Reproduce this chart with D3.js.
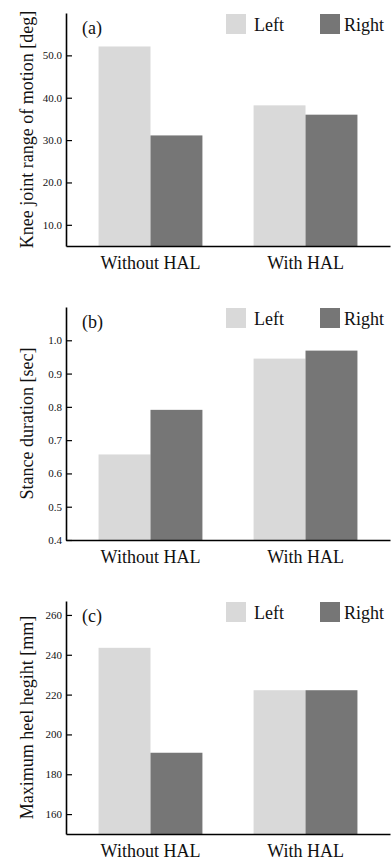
<!DOCTYPE html>
<html>
<head>
<meta charset="utf-8">
<script src="https://cdn.jsdelivr.net/npm/d3@7"></script>
<style>
	body { margin: 0; background: #fff; }
	svg text { font-family: 'Liberation Serif', 'Times New Roman', Times, 'DejaVu Serif', serif; fill: #111; }
	.axis path, .axis line { stroke: #000; }
</style>
</head>
<body>
<script>
const width = 392,
	  height = 862;

const serif = "'Liberation Serif', 'Times New Roman', Times, 'DejaVu Serif', serif";

// data
var categories = ["Without HAL", "With HAL"];
var sides = ["Left", "Right"];

var kneeLeft = [52.1, 38.2],
	kneeRight = [31.1, 36.0];
var stanceLeft = [0.657, 0.945],
	stanceRight = [0.791, 0.969];
var heelLeft = [243.5, 222.2],
	heelRight = [190.8, 222.2];

var panelLabels = ["(a)", "(b)", "(c)"];
var yTitles = ["Knee joint range of motion [deg]", "Stance duration [sec]", "Maximum heel hegiht [mm]"];
var yDomains = [[5, 60], [0.4, 1.1], [150, 267]];
var yTicks = [[10, 20, 30, 40, 50], [0.4, 0.5, 0.6, 0.7, 0.8, 0.9, 1.0], [160, 180, 200, 220, 240, 260]];
var yFormats = [".1f", ".1f", "d"];

var panels = [
	{ left: kneeLeft, right: kneeRight },
	{ left: stanceLeft, right: stanceRight },
	{ left: heelLeft, right: heelRight }
];

var color = d3.scaleOrdinal().domain(sides).range(["#d9d9d9", "#767676"]);

var panelTop = [13, 307, 601],
	plotH = 233,
	x0Left = 66,
	x0Right = 390;

var svg = d3.select("body").append("svg")
	.attr("width", width)
	.attr("height", height);

var x0 = d3.scaleBand()
	.domain(categories)
	.range([x0Left, x0Right])
	.paddingInner(0.33)
	.paddingOuter(0.21);

var x1 = d3.scaleBand()
	.domain(sides)
	.range([0, x0.bandwidth()]);

panels.forEach(function (p, i) {
	var g = svg.append("g")
		.attr("transform", "translate(0," + panelTop[i] + ")");

	var y = d3.scaleLinear()
		.domain(yDomains[i])
		.range([plotH, 0]);

	var rows = categories.map(function (c, j) {
		return { cat: c, values: [{ side: "Left", v: p.left[j] }, { side: "Right", v: p.right[j] }] };
	});

	var grp = g.selectAll(".grp")
		.data(rows)
		.enter().append("g")
		.attr("class", "grp")
		.attr("transform", function (d) { return "translate(" + x0(d.cat) + ",0)"; });

	grp.selectAll("rect")
		.data(function (d) { return d.values; })
		.enter().append("rect")
		.attr("x", function (d) { return x1(d.side); })
		.attr("width", x1.bandwidth())
		.attr("y", function (d) { return y(d.v); })
		.attr("height", function (d) { return plotH - y(d.v); })
		.attr("fill", function (d) { return color(d.side); });

	// y axis, ticks pointing inward
	var yAxis = g.append("g")
		.attr("class", "axis")
		.attr("transform", "translate(" + x0Left + ",0)")
		.call(d3.axisLeft(y)
			.tickValues(yTicks[i])
			.tickFormat(d3.format(yFormats[i]))
			.tickSizeInner(-6)
			.tickSizeOuter(0)
			.tickPadding(4));
	yAxis.attr("font-family", null);
	yAxis.select(".domain").attr("stroke-width", 1.6);
	yAxis.selectAll(".tick line").attr("stroke-width", 1.2);
	yAxis.selectAll("text")
		.style("font-family", serif)
		.style("font-size", "11px")
		.attr("fill", "#222");

	// x axis, only the baseline and labels
	var xAxis = g.append("g")
		.attr("class", "axis")
		.attr("transform", "translate(0," + plotH + ")")
		.call(d3.axisBottom(x0).tickSize(0).tickPadding(10));
	xAxis.attr("font-family", null);
	xAxis.select(".domain").attr("stroke-width", 1.6);
	xAxis.selectAll("text")
		.style("font-family", serif)
		.style("font-size", "18px")
		.attr("fill", "#111");

	g.append("text")
		.attr("transform", "translate(33," + (plotH / 2) + ") rotate(-90)")
		.attr("text-anchor", "middle")
		.style("font-family", serif)
		.style("font-size", "18px")
		.text(yTitles[i]);

	g.append("text")
		.attr("x", 82)
		.attr("y", 21)
		.style("font-family", serif)
		.style("font-size", "18px")
		.text(panelLabels[i]);

	// legend
	var legend = g.selectAll(".legend")
		.data(sides)
		.enter().append("g")
		.attr("class", "legend")
		.attr("transform", function (d, k) { return "translate(" + (226 + k * 94) + ",1)"; });

	legend.append("rect")
		.attr("width", 20)
		.attr("height", 20)
		.attr("fill", function (d) { return color(d); });

	legend.append("text")
		.attr("x", function (d) { return d == "Left" ? 28 : 24; })
		.attr("y", 17)
		.style("font-family", serif)
		.style("font-size", "18px")
		.text(function (d) { return d; });
});
</script>
</body>
</html>
